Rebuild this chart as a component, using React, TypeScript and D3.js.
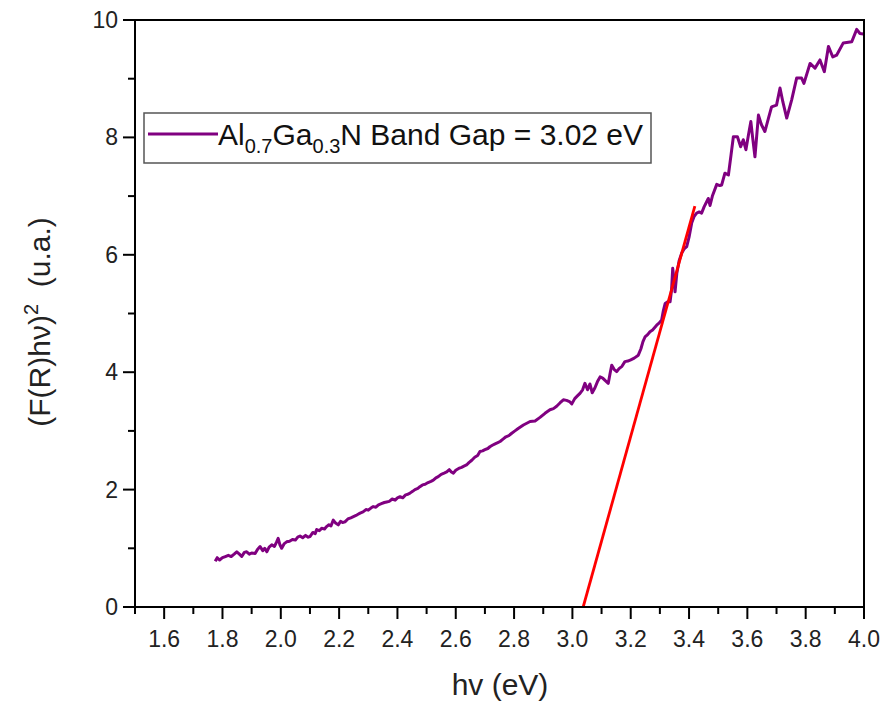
import React from "react";
import * as d3 from "d3";

const hv: number[] = [
  1.775, 1.782, 1.79, 1.8, 1.81, 1.82, 1.83, 1.84, 1.849, 1.858, 1.866, 1.875, 1.883, 1.892, 1.9, 1.912, 1.92, 1.929, 1.938, 1.945,
  1.952, 1.96, 1.969, 1.978, 1.985, 1.991, 1.997, 2.003, 2.012, 2.02, 2.03, 2.04, 2.05, 2.058, 2.066, 2.075, 2.085, 2.094, 2.1, 2.11,
  2.118, 2.123, 2.132, 2.14, 2.15, 2.157, 2.165, 2.172, 2.18, 2.188, 2.197, 2.205, 2.212, 2.22, 2.23, 2.24, 2.249, 2.258, 2.265, 2.272,
  2.282, 2.292, 2.3, 2.31, 2.317, 2.326, 2.335, 2.345, 2.355, 2.363, 2.372, 2.382, 2.392, 2.4, 2.409, 2.418, 2.428, 2.436, 2.443, 2.452,
  2.46, 2.47, 2.477, 2.486, 2.495, 2.505, 2.515, 2.523, 2.532, 2.54, 2.55, 2.56, 2.569, 2.578, 2.585, 2.592, 2.6, 2.61, 2.62, 2.628,
  2.637, 2.645, 2.655, 2.665, 2.675, 2.683, 2.692, 2.7, 2.71, 2.717, 2.727, 2.735, 2.744, 2.752, 2.762, 2.772, 2.782, 2.792, 2.803, 2.814,
  2.832, 2.855, 2.872, 2.889, 2.906, 2.923, 2.935, 2.946, 2.958, 2.969, 2.98, 2.99, 2.998, 3.008, 3.018, 3.026, 3.035, 3.043, 3.052, 3.06,
  3.068, 3.077, 3.086, 3.095, 3.104, 3.112, 3.123, 3.13, 3.135, 3.143, 3.152, 3.16, 3.17, 3.18, 3.19, 3.2, 3.212, 3.226, 3.235, 3.242,
  3.249, 3.258, 3.266, 3.275, 3.289, 3.298, 3.306, 3.312, 3.318, 3.327, 3.335, 3.34, 3.344, 3.348, 3.352, 3.358, 3.366, 3.375, 3.383, 3.392,
  3.4, 3.409, 3.417, 3.426, 3.435, 3.443, 3.452, 3.46, 3.466, 3.472, 3.48, 3.495, 3.505, 3.512, 3.523, 3.535, 3.544, 3.552, 3.566, 3.577,
  3.586, 3.595, 3.604, 3.612, 3.618, 3.626, 3.638, 3.648, 3.66, 3.672, 3.683, 3.7, 3.712, 3.722, 3.735, 3.752, 3.769, 3.786, 3.794, 3.815,
  3.832, 3.849, 3.864, 3.878, 3.893, 3.906, 3.929, 3.958, 3.975, 3.986, 3.998,
];

const fr: number[] = [
  0.78, 0.84, 0.8, 0.84, 0.86, 0.88, 0.86, 0.9, 0.94, 0.9, 0.86, 0.93, 0.94, 0.9, 0.92, 0.91, 0.98, 1.03, 0.96, 1.0,
  0.94, 1.02, 1.06, 1.03, 1.1, 1.17, 1.06, 1.0, 1.08, 1.11, 1.12, 1.15, 1.14, 1.19, 1.21, 1.18, 1.22, 1.19, 1.2, 1.27,
  1.25, 1.32, 1.3, 1.34, 1.33, 1.37, 1.4, 1.38, 1.48, 1.43, 1.4, 1.46, 1.44, 1.45, 1.5, 1.52, 1.54, 1.56, 1.58, 1.6,
  1.62, 1.66, 1.65, 1.69, 1.71, 1.7, 1.74, 1.76, 1.78, 1.79, 1.8, 1.84, 1.82, 1.86, 1.88, 1.86, 1.91, 1.92, 1.94, 1.97,
  2.0, 2.02, 2.05, 2.08, 2.09, 2.12, 2.14, 2.16, 2.2, 2.22, 2.26, 2.28, 2.3, 2.34, 2.3, 2.28, 2.33, 2.36, 2.38, 2.4,
  2.42, 2.46, 2.5, 2.55, 2.58, 2.65, 2.66, 2.68, 2.7, 2.73, 2.76, 2.78, 2.8, 2.82, 2.86, 2.9, 2.92, 2.96, 3.0, 3.04,
  3.1, 3.16, 3.17, 3.23, 3.3, 3.36, 3.38, 3.42, 3.48, 3.53, 3.52, 3.5, 3.46, 3.55, 3.6, 3.64, 3.7, 3.81, 3.7, 3.8,
  3.65, 3.73, 3.84, 3.92, 3.9, 3.86, 3.81, 4.0, 4.12, 4.05, 4.01, 4.06, 4.1, 4.18, 4.19, 4.21, 4.24, 4.29, 4.4, 4.52,
  4.6, 4.64, 4.69, 4.72, 4.8, 4.84, 4.89, 5.05, 5.17, 5.2, 5.2, 5.4, 5.77, 5.6, 5.37, 5.68, 5.9, 6.03, 6.1, 6.14,
  6.3, 6.54, 6.65, 6.71, 6.73, 6.71, 6.82, 6.9, 6.96, 6.84, 7.0, 7.2, 7.18, 7.19, 7.39, 7.36, 7.7, 8.01, 8.01, 7.84,
  7.96, 7.79, 8.05, 8.27, 8.0, 7.67, 8.38, 8.22, 8.1, 8.32, 8.52, 8.55, 8.84, 8.6, 8.33, 8.64, 9.01, 9.01, 8.92, 9.26,
  9.18, 9.32, 9.12, 9.55, 9.37, 9.4, 9.61, 9.63, 9.84, 9.77, 9.76,
];

const fitX: number[] = [3.037, 3.42];
const fitY: number[] = [0, 6.83];

const xTicks: number[] = [1.6, 1.8, 2.0, 2.2, 2.4, 2.6, 2.8, 3.0, 3.2, 3.4, 3.6, 3.8, 4.0];
const xMinor: number[] = [1.5, 1.7, 1.9, 2.1, 2.3, 2.5, 2.7, 2.9, 3.1, 3.3, 3.5, 3.7, 3.9];
const yTicks: number[] = [0, 2, 4, 6, 8, 10];
const yMinor: number[] = [1, 3, 5, 7, 9];

const FONT = "'Liberation Sans', Arial, Helvetica, sans-serif";

export default function App() {
  const left = 135, right = 864, top = 20, bottom = 607;
  const x = d3.scaleLinear().domain([1.5, 4.0]).range([left, right]);
  const y = d3.scaleLinear().domain([0, 10]).range([bottom, top]);

  const pts: [number, number][] = hv.map((v, i) => [v, fr[i]]);
  const line = d3.line<[number, number]>().x((d) => x(d[0])).y((d) => y(d[1]));
  const fitPts: [number, number][] = fitX.map((v, i) => [v, fitY[i]]);

  return (
    <svg
      width={885}
      height={707}
      style={{ position: "absolute", left: 0, top: 0, display: "block", background: "#fff" }}
      fontFamily={FONT}
    >
      <rect x={0} y={0} width={885} height={707} fill="#fff" />
      <defs>
        <clipPath id="plotclip">
          <rect x={left} y={top} width={right - left} height={bottom - top} />
        </clipPath>
      </defs>

      {/* data */}
      <g clipPath="url(#plotclip)">
        <path d={line(pts) || ""} fill="none" stroke="#800080" strokeWidth={3} strokeLinejoin="round" />
        <path d={line(fitPts) || ""} fill="none" stroke="#ff0000" strokeWidth={2.8} />
      </g>

      {/* frame */}
      <rect x={left} y={top} width={right - left} height={bottom - top} fill="none" stroke="#000" strokeWidth={2} />

      {/* x ticks */}
      {xTicks.map((t) => (
        <g key={"xt" + t}>
          <line x1={x(t)} x2={x(t)} y1={bottom} y2={bottom + 12} stroke="#000" strokeWidth={2} />
          <text x={x(t)} y={647} textAnchor="middle" fontSize={23} fill="#222">
            {t.toFixed(1)}
          </text>
        </g>
      ))}
      {xMinor.map((t) => (
        <line key={"xm" + t} x1={x(t)} x2={x(t)} y1={bottom} y2={bottom + 7} stroke="#000" strokeWidth={2} />
      ))}

      {/* y ticks */}
      {yTicks.map((t) => (
        <g key={"yt" + t}>
          <line x1={left - 12} x2={left} y1={y(t)} y2={y(t)} stroke="#000" strokeWidth={2} />
          <text x={118} y={y(t) + 8} textAnchor="end" fontSize={23} fill="#222">
            {t}
          </text>
        </g>
      ))}
      {yMinor.map((t) => (
        <line key={"ym" + t} x1={left - 7} x2={left} y1={y(t)} y2={y(t)} stroke="#000" strokeWidth={2} />
      ))}

      {/* axis titles */}
      <text x={500} y={695} textAnchor="middle" fontSize={30} fill="#222">
        hv (eV)
      </text>
      <text transform="translate(50,322) rotate(-90)" textAnchor="middle" fontSize={30} fill="#222">
        (F(R)hν)
        <tspan fontSize={20} dy={-12}>2</tspan>
        <tspan dy={12}>{"\u00a0 (u.a.)"}</tspan>
      </text>

      {/* legend */}
      <rect x={144} y={113} width={507} height={50} fill="#fff" stroke="#555" strokeWidth={1.5} />
      <line x1={148} x2={218} y1={134} y2={134} stroke="#800080" strokeWidth={3} />
      <text x={218} y={145} fontSize={30} fill="#111">
        Al
        <tspan fontSize={20} dy={8}>0.7</tspan>
        <tspan dy={-8}>Ga</tspan>
        <tspan fontSize={20} dy={8}>0.3</tspan>
        <tspan dy={-8}>N Band Gap = 3.02 eV</tspan>
      </text>
    </svg>
  );
}
